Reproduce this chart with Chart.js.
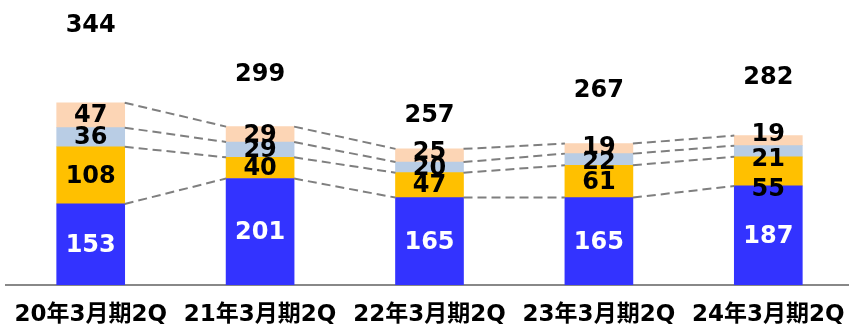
<!DOCTYPE html>
<html>
<head>
<meta charset="utf-8">
<script src="https://cdn.jsdelivr.net/npm/chart.js@4"></script>
<style>
  html, body { margin: 0; padding: 0; background: #fff; overflow: hidden; }
  #wrap { width: 855px; height: 328px; }
</style>
</head>
<body>
<div id="wrap"><canvas id="myChart"></canvas></div>
<script>
// values
var categories = ["20年3月期2Q", "21年3月期2Q", "22年3月期2Q", "23年3月期2Q", "24年3月期2Q"];
var seriesBlue = [153, 201, 165, 165, 187];
var seriesYellow = [108, 40, 47, 61, 55];
var seriesLight = [36, 29, 20, 22, 21];
var seriesPeach = [47, 29, 25, 19, 19];
var totals = [344, 299, 257, 267, 282];

// how far (px) each total label sits above its bar
var totalLift = [77, 52, 33, 53, 58];
// small manual nudges of segment labels, "dataset-bar": px
var labelNudge = { "3-2": -4, "3-4": -7, "2-4": 8, "1-4": 17, "2-3": 2, "3-3": -2 };

var numFont = "bold 24px 'DejaVu Sans', sans-serif";

const connectors = {
  id: "connectors",
  afterDatasetsDraw(chart) {
    const ctx = chart.ctx;
    ctx.save();
    ctx.strokeStyle = "#7f7f7f";
    ctx.lineWidth = 2;
    ctx.setLineDash([9, 5]);
    chart.data.datasets.forEach((ds, di) => {
      const meta = chart.getDatasetMeta(di);
      for (let i = 0; i < meta.data.length - 1; i++) {
        const a = meta.data[i];
        const b = meta.data[i + 1];
        ctx.beginPath();
        ctx.moveTo(a.x + a.width / 2, a.y);
        ctx.lineTo(b.x - b.width / 2, b.y);
        ctx.stroke();
      }
    });
    ctx.restore();
  }
};

const valueLabels = {
  id: "valueLabels",
  afterDraw(chart) {
    const ctx = chart.ctx;
    ctx.save();
    ctx.font = numFont;
    ctx.textAlign = "center";
    ctx.textBaseline = "middle";
    chart.data.datasets.forEach((ds, di) => {
      const meta = chart.getDatasetMeta(di);
      meta.data.forEach((el, i) => {
        const nudge = labelNudge[di + "-" + i] || 0;
        ctx.fillStyle = di === 0 ? "#ffffff" : "#000000";
        ctx.fillText(String(ds.data[i]), el.x, (el.y + el.base) / 2 + nudge + 1);
      });
    });
    // totals above the stacks
    const top = chart.getDatasetMeta(chart.data.datasets.length - 1);
    top.data.forEach((el, i) => {
      ctx.fillStyle = "#000000";
      ctx.fillText(String(totals[i]), el.x, el.y - totalLift[i]);
    });
    ctx.restore();
  }
};

const ctx = document.getElementById("myChart").getContext("2d");
new Chart(ctx, {
  type: "bar",
  data: {
    labels: categories,
    datasets: [
      { data: seriesBlue, backgroundColor: "#3333FF" },
      { data: seriesYellow, backgroundColor: "#FFC000" },
      { data: seriesLight, backgroundColor: "#B9CDE5" },
      { data: seriesPeach, backgroundColor: "#FCD5B5" },
    ],
  },
  options: {
    responsive: true,
    maintainAspectRatio: false,
    animation: false,
    layout: { padding: { left: 6, right: 2, top: 0, bottom: 0 } },
    datasets: { bar: { barThickness: 68 } },
    plugins: { legend: { display: false }, tooltip: { enabled: false } },
    scales: {
      x: {
        stacked: true,
        grid: { display: false, drawTicks: false },
        border: { display: true, color: "#888888", width: 2 },
        afterFit(scale) {
          scale.height = 43;
          scale.paddingLeft = 0;
          scale.paddingRight = 0;
        },
        ticks: {
          color: "#000000",
          padding: 16,
          maxRotation: 0,
          autoSkip: false,
          font: { family: "'DejaVu Sans', 'Noto Sans CJK JP', sans-serif", size: 23, weight: "bold" },
        },
      },
      y: {
        stacked: true,
        display: false,
        min: 0,
        max: 538,
      },
    },
  },
  plugins: [connectors, valueLabels],
});
</script>
</body>
</html>
